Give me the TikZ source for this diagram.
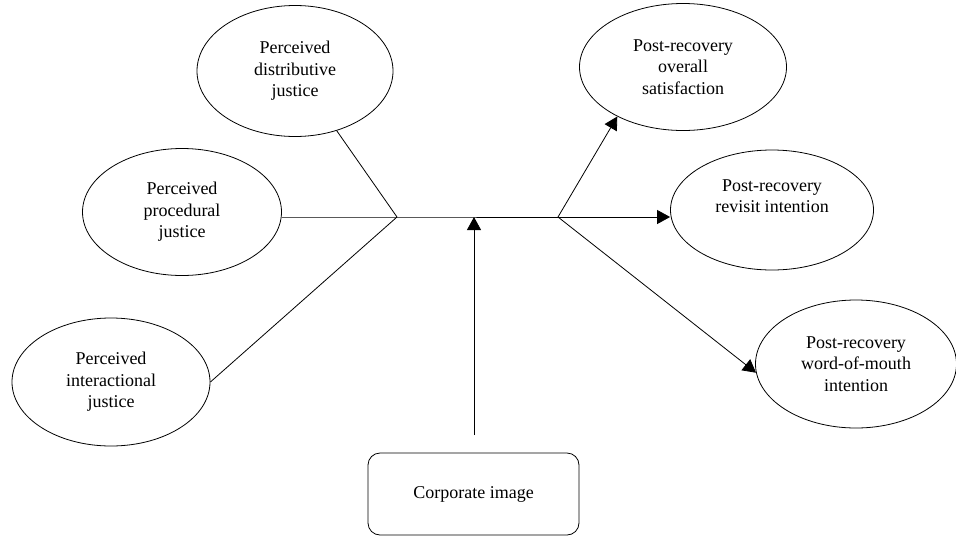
\documentclass[tikz,border=0pt]{standalone}
\usepackage{fontspec}
\setmainfont{Liberation Serif}
\usetikzlibrary{shapes.geometric,arrows.meta}
\begin{document}
\begin{tikzpicture}[x=1pt,y=-1pt,line width=0.8pt,
  construct/.style={draw, ellipse, align=center, inner sep=0pt,
    font=\fontsize{18}{21.5}\selectfont},
  imagebox/.style={draw, rounded corners=12pt, minimum width=211pt,
    minimum height=82pt, font=\fontsize{18}{21.5}\selectfont},
  effect/.style={-{Triangle[length=13pt,width=14pt]}}]
\useasboundingbox (0,0) rectangle (956,539);
% justice dimensions
\node[construct, minimum width=196pt, minimum height=131pt] (distr) at (295,71) {Perceived\\distributive\\justice};
\node[construct, minimum width=199pt, minimum height=127pt] (proc) at (182,212) {Perceived\\procedural\\justice};
\node[construct, minimum width=198pt, minimum height=128pt] (inter) at (111,382) {Perceived\\interactional\\justice};
% outcomes
\node[construct, minimum width=207pt, minimum height=127pt] (sat) at (683,67) {Post-recovery\\overall\\satisfaction};
\node[construct, minimum width=203pt, minimum height=120pt] (rev) at (772,210) {Post-recovery\\revisit intention\\\strut};
\node[construct, minimum width=201pt, minimum height=128pt] (wom) at (856,364) {Post-recovery\\word-of-mouth\\intention};
% moderator
\node[imagebox] (corp) at (473.5,494) {Corporate image};
\coordinate (jleft) at (397,217);
\coordinate (jright) at (558,217);
\coordinate (corptail) at (474,435);
\coordinate (corphead) at (474,217);
\draw (distr) -- (jleft);
\draw (inter.east) -- (jleft);
\draw (proc.east |- jleft) -- (jleft) -- (jright);
\draw [effect] (jright) -- (sat.217);
\draw [effect] (jright) -- (jright -| rev.west);
\draw [effect] (jright) -- (wom.185);
\draw [effect] (corptail) -- (corphead);
\end{tikzpicture}
\end{document}
